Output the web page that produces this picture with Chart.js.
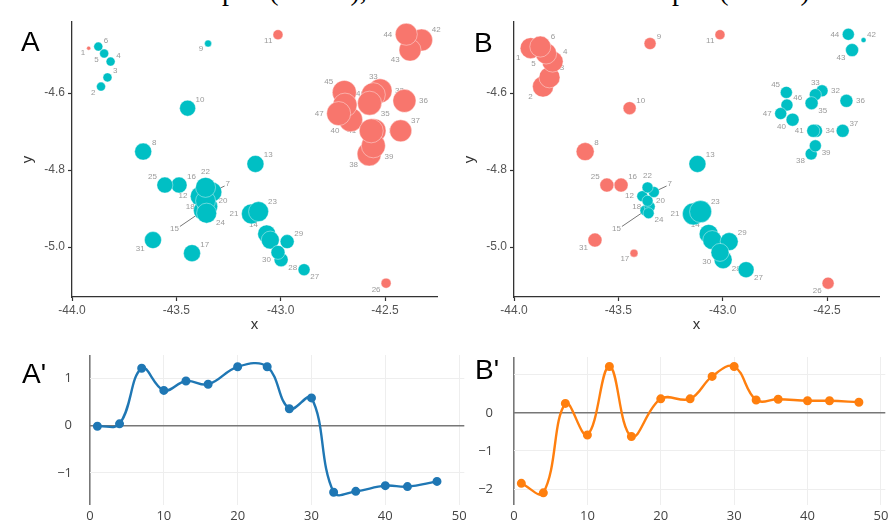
<!DOCTYPE html>
<html><head><meta charset="utf-8">
<script src="https://cdn.jsdelivr.net/npm/chart.js@4.4.0/dist/chart.umd.min.js"></script>
<style>
html,body{margin:0;padding:0;background:#fff;}
body{width:891px;height:520px;position:relative;overflow:hidden;font-family:"Liberation Sans",Arial,sans-serif;}
canvas{position:absolute;}
.lt{position:absolute;font-size:28px;line-height:28px;color:#000;white-space:nowrap;}
.cap{position:absolute;font-family:"Liberation Serif",serif;font-size:28px;line-height:28px;top:-23px;white-space:nowrap;color:#000;}
</style></head><body>
<div class="cap" style="left:131px">Local alpha (n = 47), de</div>
<div class="cap" style="left:581px">Local alpha (n = 47).</div>
<canvas id="cA" width="450" height="340" style="left:0;top:0"></canvas>
<canvas id="cB" width="449" height="340" style="left:442px;top:0"></canvas>
<canvas id="cA2" width="470" height="180" style="left:0;top:340px"></canvas>
<canvas id="cB2" width="449" height="180" style="left:442px;top:340px"></canvas>
<div class="lt" style="left:21px;top:28px">A</div>
<div class="lt" style="left:474px;top:29px">B</div>
<div class="lt" style="left:22px;top:360px">A'</div>
<div class="lt" style="left:475px;top:356px">B'</div>
<script>
// ---------- data ----------
const pointIds = [1,2,3,4,5,6,7,8,9,10,11,12,13,14,15,16,17,18,19,20,21,22,23,24,25,26,27,28,29,30,31,32,33,34,35,36,37,38,39,40,41,42,43,44,45,46,47];
const pointX = [-43.920,-43.861,-43.830,-43.815,-43.846,-43.874,-43.330,-43.659,-43.348,-43.446,-43.013,-43.385,-43.121,-43.067,-43.370,-43.487,-43.425,-43.350,-43.050,-43.360,-43.140,-43.360,-43.106,-43.355,-43.555,-42.495,-42.888,-42.998,-42.969,-43.013,-43.612,-42.524,-42.556,-42.553,-42.574,-42.407,-42.425,-42.576,-42.556,-42.665,-42.566,-42.325,-42.380,-42.398,-42.695,-42.692,-42.722];
const pointY = [-4.483,-4.583,-4.559,-4.518,-4.497,-4.479,-4.857,-4.752,-4.471,-4.639,-4.448,-4.868,-4.784,-4.966,-4.905,-4.839,-5.016,-4.895,-4.982,-4.880,-4.914,-4.845,-4.908,-4.912,-4.839,-5.094,-5.059,-5.033,-4.986,-5.014,-4.982,-4.594,-4.604,-4.698,-4.626,-4.620,-4.698,-4.758,-4.737,-4.669,-4.698,-4.462,-4.488,-4.447,-4.598,-4.631,-4.653];
// bubble sizes (radius) and cluster group (0 = teal, 1 = salmon)
const sizeA = [2,4.5,4.5,4.5,4.5,4.5,10,8.5,3.5,8,5,10,8.5,9,10,8,8.5,10,9,10,10,10,10,10,8,5,6,7,7,7,8.5,12,12,12,12,11.5,11,12,12,12,12,11,11,11,12,12,12];
const groupA = [1,0,0,0,0,0,0,0,0,0,1,0,0,0,0,0,0,0,0,0,0,0,0,0,0,1,0,0,0,0,0,1,1,1,1,1,1,1,1,1,1,1,1,1,1,1,1];
const sizeB = [10.5,10.5,10.5,10.5,10.5,10.5,5.5,9,6,6.5,5,5.5,8.5,9.5,5.5,7,4,5.5,9.5,5.5,11,5.5,11,5.5,7,6,8,9,9,9,7,6,6,6.5,6.5,6.5,6.5,6,6,6.5,6.5,2.5,6.5,6,6,6,6];
const groupB = [1,1,1,1,1,1,0,1,1,1,1,0,0,0,0,1,1,0,0,0,0,0,0,0,1,1,0,0,0,0,1,0,0,0,0,0,0,0,0,0,0,0,0,0,0,0,0];
const scatterXTicks = [-44.0,-43.5,-43.0,-42.5];
const scatterYTicks = [-5.0,-4.8,-4.6];

const seqX = [1,4,7,10,13,16,20,24,27,30,33,36,40,43,47];
const alphaA = [-0.01,0.04,1.22,0.75,0.95,0.88,1.25,1.25,0.36,0.59,-1.41,-1.39,-1.27,-1.29,-1.18];
const alphaB = [-1.85,-2.10,0.25,-0.58,1.22,-0.62,0.37,0.37,0.96,1.22,0.34,0.36,0.32,0.32,0.28];
const lineXTicks = [0,10,20,30,40,50];
const lineAYTicks = [-1,0,1];
const lineAYLabels = {'-1':'\u22121','0':'0','1':'1'};
const lineBYTicks = [-2,-1,0,1];
const lineBYLabels = {'-2':'\u22122','-1':'\u22121','0':'0','1':''};

// ---------- label styling (ggrepel-like) ----------
const labelDirA = ['sw','sw','ne','ne','sw','ne','L','ne','sw','ne','sw','w','ne','nw','L','ne','ne','w',null,'e','w','n','ne','se','nw','sw','se','se','ne','sw','sw','e','n','e','se','e','ne','sw','se','sw','w','ne','sw','w','nw','ne','w'];
const labelDirB = labelDirA.map((d,i)=> i===8 ? 'ne' : (i===16 ? 'sw' : d));
const leaderOffsets = {7:[16,-8], 15:[-29,18]};

const TEAL = '#00BFC4', SALMON = '#F8766D';
const VEC = {n:[0,-1],s:[0,1],e:[1,0],w:[-1,0],ne:[0.8,-0.6],nw:[-0.8,-0.6],se:[0.8,0.6],sw:[-0.8,0.6]};

const labelPlugin = {
  id:'ptlabels',
  beforeDatasetsDraw(chart, args, opts){
    if(!opts || !opts.dirs) return;
    const meta = chart.getDatasetMeta(0);
    const ctx = chart.ctx;
    ctx.save();
    ctx.font = '8px "Liberation Sans", Arial, sans-serif';
    ctx.textAlign = 'center'; ctx.textBaseline = 'middle';
    meta.data.forEach((el,i)=>{
      const d = opts.dirs[i]; if(!d) return;
      const txt = String(pointIds[i]);
      const w = ctx.measureText(txt).width;
      const r = opts.radii[i];
      let lx, ly;
      if(d === 'L'){
        const o = leaderOffsets[pointIds[i]];
        lx = el.x + o[0]; ly = el.y + o[1];
        ctx.strokeStyle = '#777'; ctx.lineWidth = 1;
        ctx.beginPath();
        ctx.moveTo(lx - Math.sign(o[0])*(w/2+1), ly - Math.sign(o[1])*2);
        ctx.lineTo(el.x, el.y);
        ctx.stroke();
      } else {
        const v = VEC[d];
        lx = el.x + v[0]*(r+2) + v[0]*(w/2+1);
        ly = el.y + v[1]*(r+2) + v[1]*4;
      }
      ctx.fillStyle = '#9a9a9a';
      ctx.fillText(txt, lx, ly);
    });
    ctx.restore();
  }
};

function scatterChart(id, sizes, groups, dirs, padRight){
  return new Chart(document.getElementById(id), {
    type:'scatter',
    data:{datasets:[{
      data: pointX.map((x,i)=>({x:x, y:pointY[i]})),
      pointRadius: sizes, pointHoverRadius: sizes,
      backgroundColor: groups.map(g=> g ? SALMON : TEAL),
      borderColor: 'rgba(255,255,255,0.5)', borderWidth: 0.8,
      clip: false
    }]},
    plugins:[labelPlugin],
    options:{
      responsive:false, animation:false, devicePixelRatio:1,
      layout:{padding:{top:22,right:padRight,left:0,bottom:0}},
      plugins:{legend:{display:false}, tooltip:{enabled:false}, ptlabels:{dirs:dirs, radii:sizes}},
      scales:{
        x:{type:'linear', min:-44, max:-42.25,
          afterBuildTicks: s => { s.ticks = scatterXTicks.map(v=>({value:v})); },
          afterFit: s => { s.height = 43; },
          ticks:{callback: v => Number(v).toFixed(1), font:{family:'"Liberation Sans", Arial', size:12}, color:'#555', padding:2, maxRotation:0, autoSkip:false},
          grid:{drawOnChartArea:false, drawTicks:true, tickLength:4, tickColor:'#333', tickWidth:1.2},
          border:{color:'#333', width:1.3},
          title:{display:true, text:'x', font:{family:'"Liberation Sans", Arial', size:15}, color:'#333', padding:{top:0,bottom:6}}
        },
        y:{type:'linear', min:-5.13, max:-4.415,
          afterBuildTicks: s => { s.ticks = scatterYTicks.map(v=>({value:v})); },
          afterFit: s => { s.width = 72; },
          ticks:{callback: v => Number(v).toFixed(1), font:{family:'"Liberation Sans", Arial', size:12}, color:'#555', padding:3, autoSkip:false},
          grid:{drawOnChartArea:false, drawTicks:true, tickLength:4, tickColor:'#333', tickWidth:1.2},
          border:{color:'#333', width:1.3},
          title:{display:true, text:'y', font:{family:'"Liberation Sans", Arial', size:15}, color:'#333', padding:{top:19,bottom:0}}
        }
      }
    }
  });
}

function lineChart(id, vals, color, yTicks, yLabels, ymin, ymax, xmax, yw, padTop, padRight, ypad){
  return new Chart(document.getElementById(id), {
    type:'line',
    data:{datasets:[{
      data: seqX.map((x,i)=>({x:x, y:vals[i]})),
      borderColor: color, backgroundColor: color,
      pointBackgroundColor: color, pointBorderColor: color,
      borderWidth: 2.4, pointRadius: 3.3, pointHoverRadius: 3.3,
      tension: 0.4, fill:false, clip:false
    }]},
    options:{
      responsive:false, animation:false, devicePixelRatio:1,
      layout:{padding:{top:padTop,right:padRight,left:0,bottom:0}},
      plugins:{legend:{display:false}, tooltip:{enabled:false}},
      scales:{
        x:{type:'linear', min:0, max:xmax,
          afterBuildTicks: s => { s.ticks = lineXTicks.map(v=>({value:v})); },
          afterFit: s => { s.height = 15; s.paddingLeft = 0; s.paddingRight = 0; s.paddingTop = 0; s.paddingBottom = 0; },
          ticks:{font:{family:'"Open Sans", Arial', size:13}, color:'#444', padding:3, maxRotation:0, autoSkip:false},
          grid:{drawTicks:false, color: c => c.tick && c.tick.value === 0 ? '#777' : '#eeeeee', lineWidth: c => c.tick && c.tick.value === 0 ? 1.6 : 1},
          border:{display:false}
        },
        y:{type:'linear', min:ymin, max:ymax,
          afterBuildTicks: s => { s.ticks = yTicks.map(v=>({value:v})); },
          afterFit: s => { s.width = yw; s.paddingTop = 0; s.paddingBottom = 0; s.paddingLeft = 0; s.paddingRight = 0; },
          ticks:{callback: v => yLabels[String(v)], font:{family:'"Open Sans", Arial', size:13}, color:'#444', padding:ypad, autoSkip:false},
          grid:{drawTicks:false, color: c => c.tick && c.tick.value === 0 ? '#777' : '#eeeeee', lineWidth: c => c.tick && c.tick.value === 0 ? 1.6 : 1},
          border:{display:false}
        }
      }
    }
  });
}

scatterChart('cA', sizeA, groupA, labelDirA, 3);
scatterChart('cB', sizeB, groupB, labelDirB, 4);
lineChart('cA2', alphaA, '#1f77b4', lineAYTicks, lineAYLabels, -1.68, 1.5, 50.7, 90, 15, 5, 18);
lineChart('cB2', alphaB, '#ff7f0e', lineBYTicks, lineBYLabels, -2.42, 1.47, 50.6, 72, 17, 0, 21);
</script>
</body></html>
